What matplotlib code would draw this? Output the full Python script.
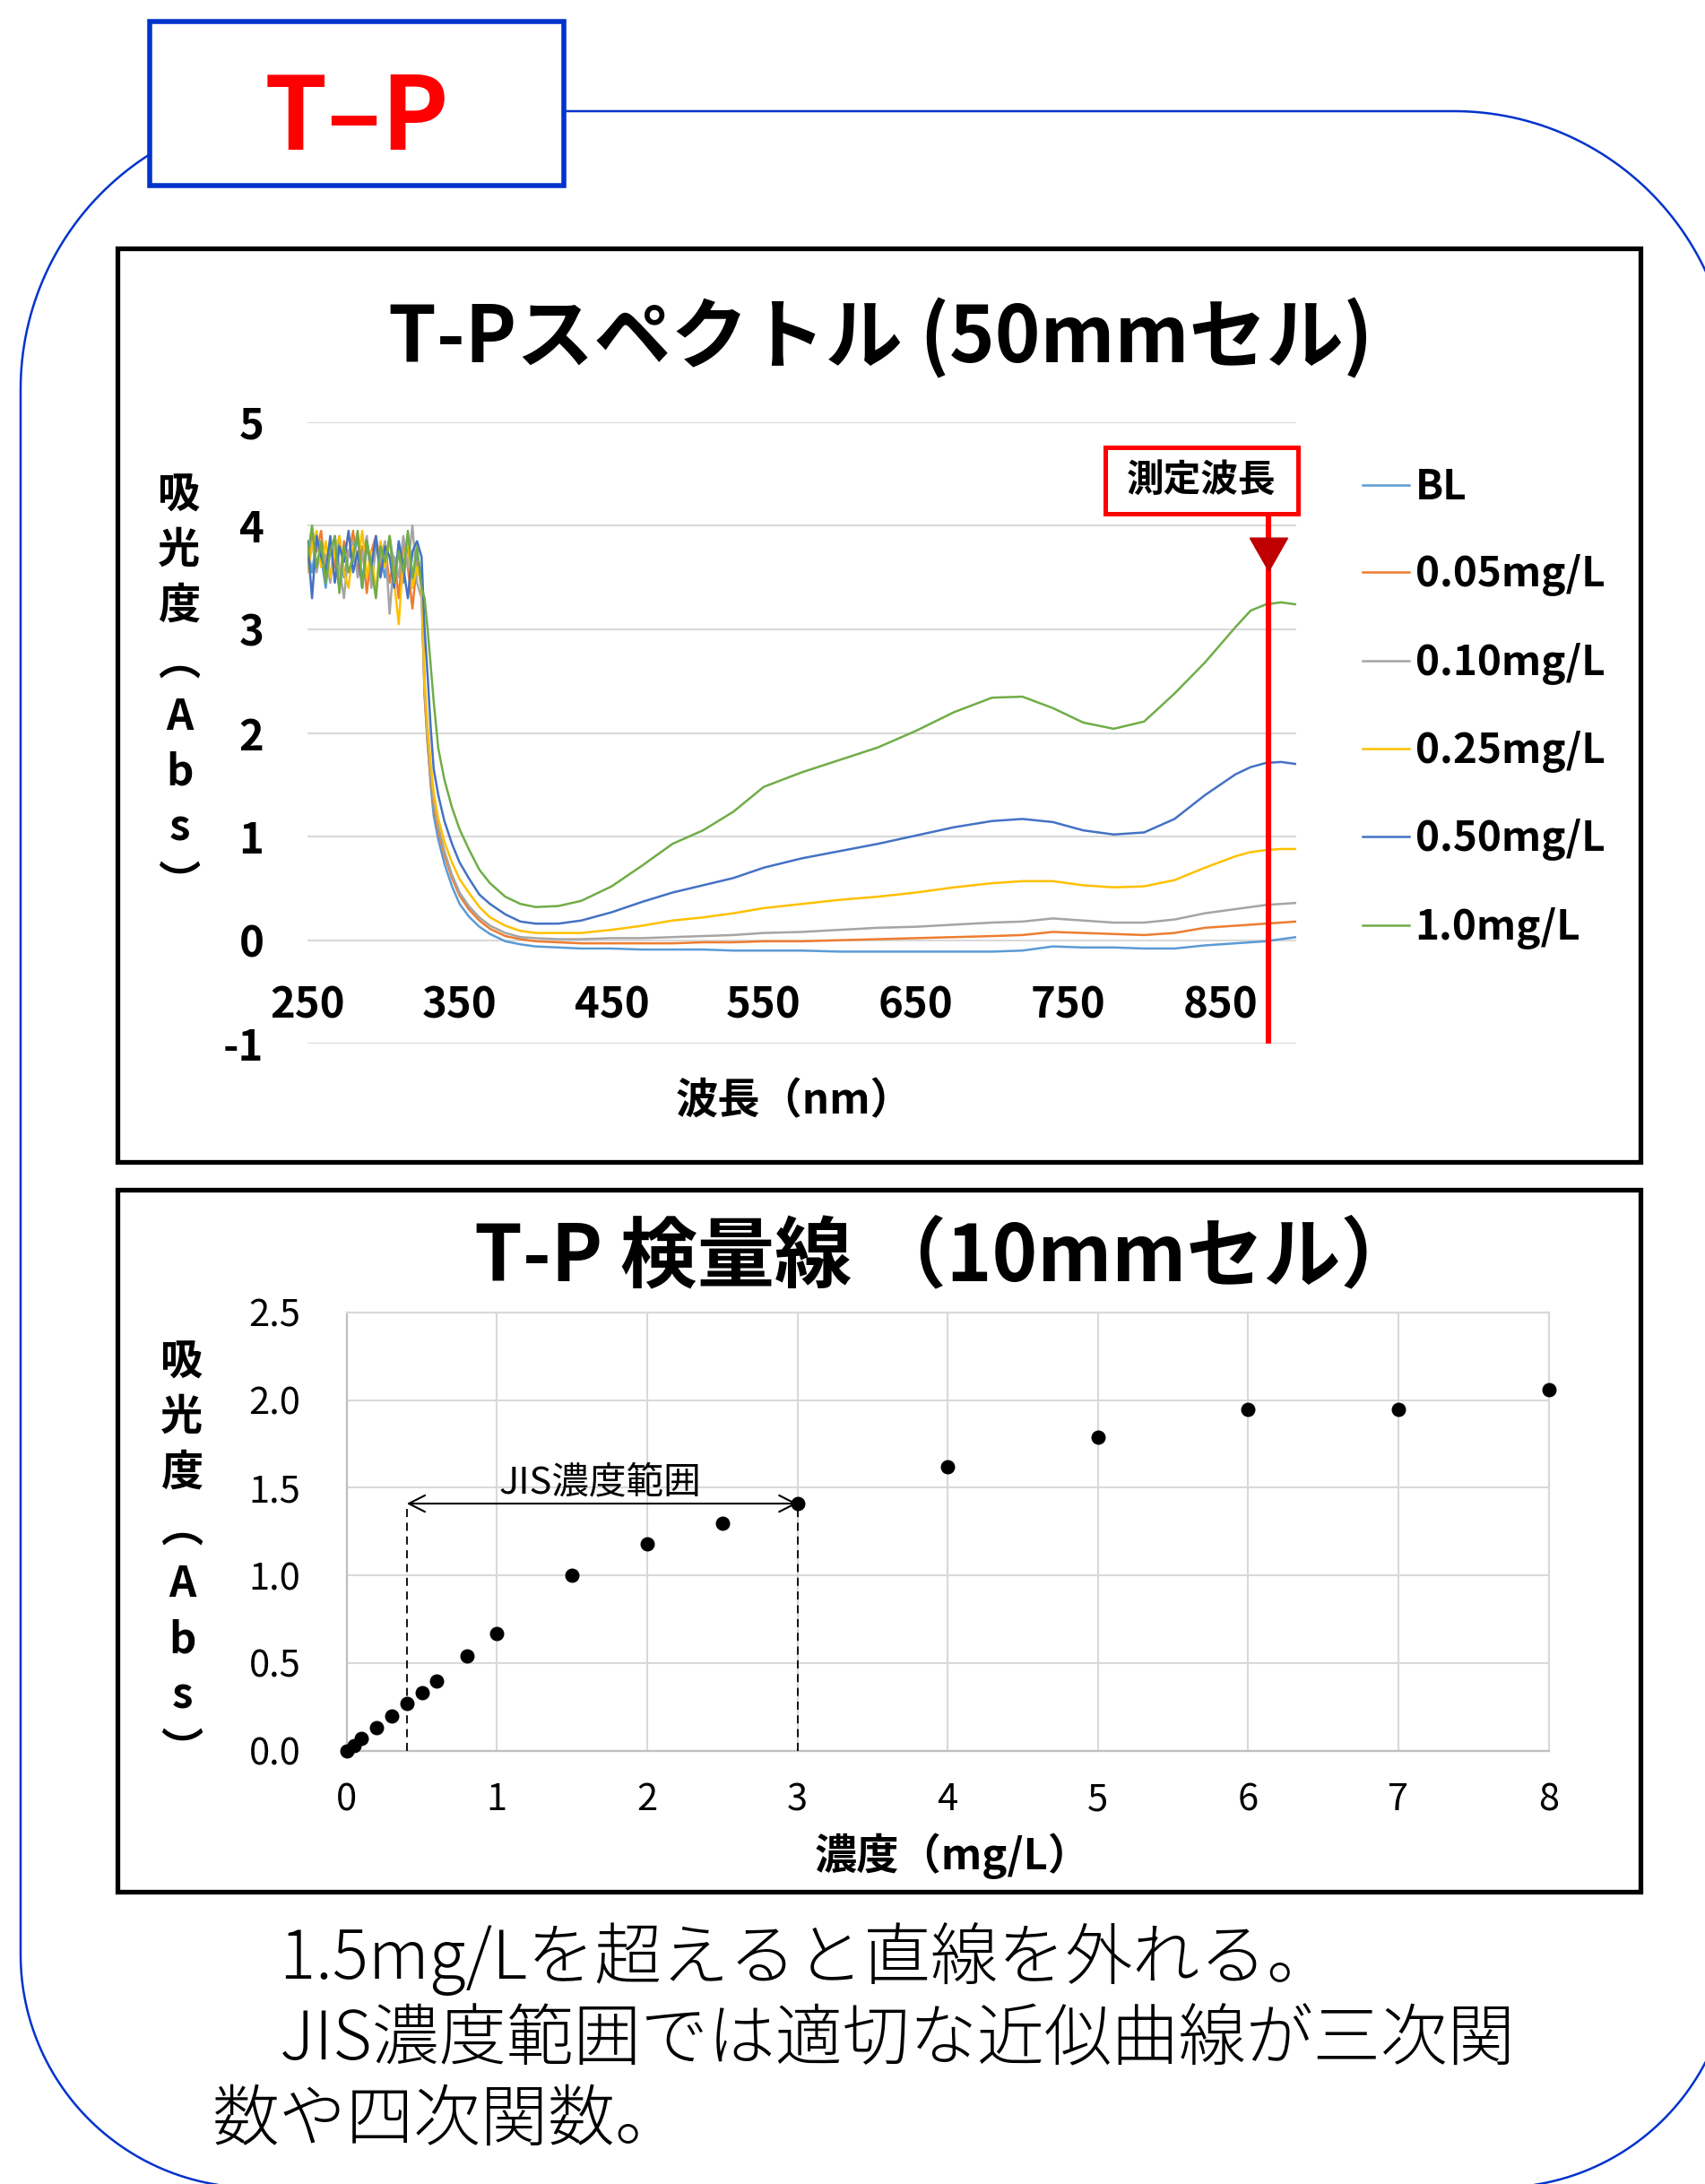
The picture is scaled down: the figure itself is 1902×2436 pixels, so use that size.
import numpy as np
import matplotlib
matplotlib.use("Agg")
import matplotlib.pyplot as plt
from matplotlib.patches import Rectangle, Polygon

plt.rcParams['font.family'] = ['Noto Sans CJK JP', 'DejaVu Sans']

W, H = 1902, 2436

# ---------------- spectrum data (absorbance) ----------------
NOISE_WL = [250, 253, 256, 259, 262, 265, 268, 271, 274, 277, 280, 283, 286,
            289, 292, 295, 298, 301, 304, 307, 310, 313, 316, 319, 322, 325]
SMOOTH_WL = [327, 329, 331, 333, 336, 340, 345, 350, 356, 363, 370, 380, 390,
             400, 415, 430, 450, 470, 490, 510, 530, 550, 575, 600, 625, 650,
             675, 700, 720, 740, 760, 780, 800, 820, 840, 860, 870, 880, 890, 900]

SERIES = ['BL', '0.05mg/L', '0.10mg/L', '0.25mg/L', '0.50mg/L', '1.0mg/L']
COLORS = ['#5B9BD5', '#ED7D31', '#A5A5A5', '#FFC000', '#4472C4', '#70AD47']

BL_NOISE = [3.80, 3.55, 3.85, 3.70, 3.40, 3.85, 3.60, 3.90, 3.50, 3.75, 3.65, 3.90, 3.45,
            3.80, 3.60, 3.85, 3.70, 3.50, 3.90, 3.60, 3.75, 3.45, 3.85, 3.40, 3.70, 3.55]
BL_SMOOTH = [2.40, 1.92, 1.50, 1.20, 0.97, 0.74, 0.52, 0.35, 0.23, 0.13, 0.06, -0.01,
             -0.04, -0.06, -0.07, -0.08, -0.08, -0.09, -0.09, -0.09, -0.10, -0.10, -0.10,
             -0.11, -0.11, -0.11, -0.11, -0.11, -0.10, -0.06, -0.07, -0.07, -0.08, -0.08,
             -0.05, -0.03, -0.02, -0.01, 0.01, 0.03]

C005_NOISE = [3.60, 3.90, 3.75, 3.95, 3.50, 3.80, 3.65, 3.40, 3.85, 3.70, 3.95, 3.55, 3.80,
              3.35, 3.75, 3.90, 3.60, 3.80, 3.45, 3.70, 3.30, 3.85, 3.60, 3.20, 3.65, 3.40]
C005_SMOOTH = [2.35, 1.88, 1.55, 1.30, 1.05, 0.82, 0.60, 0.43, 0.30, 0.19, 0.11, 0.04,
               0.01, -0.01, -0.02, -0.03, -0.03, -0.03, -0.03, -0.02, -0.02, -0.01, -0.01,
               0.00, 0.01, 0.02, 0.03, 0.04, 0.05, 0.08, 0.07, 0.06, 0.05, 0.07,
               0.12, 0.14, 0.15, 0.16, 0.17, 0.18]

C010_NOISE = [3.75, 3.85, 3.55, 3.80, 3.70, 3.45, 3.90, 3.60, 3.30, 3.75, 3.85, 3.50, 3.70,
              3.90, 3.40, 3.80, 3.65, 3.85, 3.15, 3.70, 3.50, 3.90, 3.60, 4.00, 3.45, 3.30]
C010_SMOOTH = [2.40, 1.92, 1.60, 1.34, 1.10, 0.86, 0.63, 0.46, 0.33, 0.22, 0.14, 0.07,
               0.03, 0.02, 0.01, 0.01, 0.02, 0.02, 0.03, 0.04, 0.05, 0.07, 0.08,
               0.10, 0.12, 0.13, 0.15, 0.17, 0.18, 0.21, 0.19, 0.17, 0.17, 0.20,
               0.26, 0.30, 0.32, 0.34, 0.35, 0.36]

C025_NOISE = [3.55, 3.80, 3.95, 3.60, 3.85, 3.50, 3.75, 3.90, 3.55, 3.40, 3.80, 3.65, 3.95,
              3.50, 3.75, 3.35, 3.85, 3.60, 3.90, 3.45, 3.05, 3.70, 3.85, 3.40, 3.60, 3.45]
C025_SMOOTH = [2.50, 2.05, 1.70, 1.42, 1.17, 0.95, 0.75, 0.59, 0.46, 0.32, 0.22, 0.14,
               0.09, 0.07, 0.07, 0.07, 0.10, 0.14, 0.19, 0.22, 0.26, 0.31, 0.35,
               0.39, 0.42, 0.46, 0.51, 0.55, 0.57, 0.57, 0.53, 0.51, 0.52, 0.58,
               0.70, 0.81, 0.85, 0.87, 0.88, 0.88]

C050_NOISE = [3.85, 3.30, 3.90, 3.70, 3.55, 3.90, 3.45, 3.80, 3.65, 3.95, 3.55, 3.75, 3.40,
              3.85, 3.60, 3.90, 3.50, 3.80, 3.70, 3.40, 3.85, 3.60, 3.30, 3.75, 3.85, 3.70]
C050_SMOOTH = [3.00, 2.55, 2.05, 1.65, 1.40, 1.15, 0.93, 0.75, 0.60, 0.44, 0.35, 0.25,
               0.18, 0.16, 0.16, 0.19, 0.27, 0.37, 0.46, 0.53, 0.60, 0.70, 0.79,
               0.86, 0.93, 1.01, 1.09, 1.15, 1.17, 1.14, 1.06, 1.02, 1.04, 1.17,
               1.40, 1.60, 1.67, 1.71, 1.72, 1.70]

C100_NOISE = [3.70, 4.00, 3.60, 3.85, 3.45, 3.75, 3.90, 3.35, 3.80, 3.55, 3.70, 3.95, 3.40,
              3.85, 3.60, 3.30, 3.80, 3.65, 3.90, 3.45, 3.75, 3.55, 3.95, 3.50, 3.80, 3.40]
C100_SMOOTH = [3.30, 3.00, 2.65, 2.30, 1.85, 1.55, 1.28, 1.07, 0.88, 0.68, 0.55, 0.42,
               0.35, 0.32, 0.33, 0.38, 0.52, 0.72, 0.93, 1.06, 1.24, 1.48, 1.62,
               1.74, 1.86, 2.02, 2.20, 2.34, 2.35, 2.24, 2.10, 2.04, 2.11, 2.38,
               2.68, 3.02, 3.18, 3.24, 3.26, 3.24]

NOISE_VALUES = [BL_NOISE, C005_NOISE, C010_NOISE, C025_NOISE, C050_NOISE, C100_NOISE]
SMOOTH_VALUES = [BL_SMOOTH, C005_SMOOTH, C010_SMOOTH, C025_SMOOTH, C050_SMOOTH, C100_SMOOTH]

X1_TICKS = [250, 350, 450, 550, 650, 750, 850]
Y1_TICKS = [-1, 0, 1, 2, 3, 4, 5]
MEAS_WL = 882

# ---------------- calibration curve data ----------------
CONC = [0, 0.05, 0.1, 0.2, 0.3, 0.4, 0.5, 0.6, 0.8, 1.0, 1.5, 2.0, 2.5, 3.0, 4, 5, 6, 7, 8]
ABS = [0.00, 0.03, 0.07, 0.13, 0.20, 0.27, 0.33, 0.40, 0.54, 0.67, 1.00, 1.18, 1.30,
       1.41, 1.62, 1.79, 1.95, 1.95, 2.06]
X2_TICKS = [0, 1, 2, 3, 4, 5, 6, 7, 8]
Y2_TICKS = [0.0, 0.5, 1.0, 1.5, 2.0, 2.5]
JIS_LOW, JIS_HIGH = 0.4, 3.0

NOTE_LINES = ['\u30001.5mg/Lを超えると直線を外れる。',
              '\u3000JIS濃度範囲では適切な近似曲線が三次関',
              '数や四次関数。']

BLUE = '#0033CC'
GRID = '#D9D9D9'


def frac(x0, y0, x1, y1):
    return [x0 / W, 1 - y1 / H, (x1 - x0) / W, (y1 - y0) / H]


def rounded_frame(x0, y0, x1, y1, rt, rb, n=60):
    t = np.linspace(0, np.pi / 2, n)
    pts = []
    pts += list(zip(x0 + rt - rt * np.cos(t), y0 + rt - rt * np.sin(t)))
    pts += list(zip(x1 - rt + rt * np.sin(t), y0 + rt - rt * np.cos(t)))
    pts += list(zip(x1 - rb + rb * np.cos(t), y1 - rb + rb * np.sin(t)))
    pts += list(zip(x0 + rb - rb * np.sin(t), y1 - rb + rb * np.cos(t)))
    return np.array(pts)


fig = plt.figure(figsize=(W / 100, H / 100), dpi=100)

# background layer in pixel coordinates (y down)
bg = fig.add_axes([0, 0, 1, 1], zorder=0)
bg.set_xlim(0, W)
bg.set_ylim(H, 0)
bg.axis('off')

bg.add_patch(Polygon(rounded_frame(23, 124, 1932, 2440, 310, 260), closed=True,
                     fill=False, edgecolor=BLUE, lw=1.8))
bg.add_patch(Rectangle((167, 24), 462, 183, facecolor='white', edgecolor=BLUE, lw=4.0, zorder=3))
bg.text(398, 167, 'T–P', color='#FF0000', fontsize=81, fontweight='bold',
        ha='center', va='baseline', zorder=4)

bg.add_patch(Rectangle((131, 277), 1699, 1019, fill=False, edgecolor='black', lw=3.8))
bg.add_patch(Rectangle((131, 1327), 1699, 783, fill=False, edgecolor='black', lw=3.8))

bg.text(982, 378, 'T-Pスペクトル (50mmセル)', fontsize=62, fontweight='bold',
        ha='center', va='center')
bg.text(1055, 1403, 'T-P 検量線 （10mmセル）', fontsize=62, fontweight='bold',
        ha='center', va='center')

bg.text(886, 1228, '波長（nm）', fontsize=34, fontweight='bold', ha='center', va='center')
bg.text(1063, 2070, '濃度（mg/L）', fontsize=34, fontweight='bold', ha='center', va='center')

ylabel_chars = ['吸', '光', '度', '︵', 'A', 'b', 's', '︶']
for i, ch in enumerate(ylabel_chars):
    bg.text(200, 566 + i * 62, ch, fontsize=34, fontweight='bold', ha='center', va='baseline')
    bg.text(203, 1533 + i * 62, ch, fontsize=34, fontweight='bold', ha='center', va='baseline')

for i, line in enumerate(NOTE_LINES):
    bg.text(237, 2207 + i * 90, line, fontsize=54, fontweight='light',
            ha='left', va='baseline')

# ---------------- spectrum chart ----------------
ax1 = fig.add_axes(frac(343, 470.7, 1446, 1164.3), zorder=2)
ax1.patch.set_alpha(0)
for sp in ax1.spines.values():
    sp.set_visible(False)
ax1.spines['bottom'].set_position(('data', 0))

for label, color, nv, sv in zip(SERIES, COLORS, NOISE_VALUES, SMOOTH_VALUES):
    ax1.plot(NOISE_WL + SMOOTH_WL, nv + sv, color=color, lw=1.8, label=label)

ax1.set_xlim(250, 900)
ax1.set_ylim(-1, 5)
ax1.set_xticks(X1_TICKS, labels=[str(v) for v in X1_TICKS], fontsize=34, fontweight='bold')
ax1.set_yticks(Y1_TICKS, labels=[str(v) for v in Y1_TICKS], fontsize=34, fontweight='bold')
ax1.grid(axis='y', color=GRID, lw=1.5)
ax1.set_axisbelow(True)
ax1.tick_params(axis='both', length=0)
ax1.tick_params(axis='x', pad=35)
ax1.tick_params(axis='y', pad=35)

# measurement wavelength marker
box_lo, box_hi = 4.115, 4.755
ax1.plot([MEAS_WL, MEAS_WL], [-1, box_lo], color='#FF0000', lw=4.4,
         solid_capstyle='butt', zorder=5, clip_on=False)
ax1.fill([MEAS_WL - 12.4, MEAS_WL + 12.4, MEAS_WL], [3.88, 3.88, 3.56],
         color='#C00000', zorder=6)
ax1.add_patch(Rectangle((774.5, box_lo), 126.5, box_hi - box_lo, facecolor='white',
                        edgecolor='#FF0000', lw=3.6, zorder=6, clip_on=False))
ax1.text(837.7, (box_lo + box_hi) / 2, '測定波長', fontsize=30, fontweight='bold',
         ha='center', va='center', zorder=7)

ax1.legend(loc='upper left', bbox_to_anchor=(1520 / W, 1 - 521 / H),
           bbox_transform=fig.transFigure, frameon=False,
           prop={'size': 33, 'weight': 'bold'}, handlelength=1.13,
           handletextpad=0.15, labelspacing=1.12, borderpad=0, borderaxespad=0)

# ---------------- calibration chart ----------------
ax2 = fig.add_axes(frac(386.7, 1464, 1727.5, 1952.7), zorder=2)
ax2.scatter(CONC, ABS, s=110, color='black', zorder=4, clip_on=False)
ax2.set_xlim(0, 8)
ax2.set_ylim(0, 2.5)
ax2.set_xticks(X2_TICKS, labels=[str(v) for v in X2_TICKS], fontsize=30)
ax2.set_yticks(Y2_TICKS, labels=[f'{v:.1f}' for v in Y2_TICKS], fontsize=30)
ax2.grid(color=GRID, lw=1.5)
ax2.set_axisbelow(True)
for side, sp in ax2.spines.items():
    sp.set_color('#BFBFBF' if side in ('left', 'bottom') else GRID)
    sp.set_linewidth(1.6)
ax2.tick_params(axis='both', length=0)
ax2.tick_params(axis='x', pad=25)
ax2.tick_params(axis='y', pad=37)

jis_y = ABS[CONC.index(JIS_HIGH)]
for xv in (JIS_LOW, JIS_HIGH):
    ax2.plot([xv, xv], [0, jis_y], color='black', lw=1.3, ls=(0, (5, 3.5)), zorder=3)
ax2.annotate('', xy=(JIS_HIGH, jis_y), xytext=(JIS_LOW, jis_y),
             arrowprops=dict(arrowstyle='<->,head_length=0.65,head_width=0.33',
                             color='black', lw=1.5, shrinkA=0, shrinkB=0,
                             mutation_scale=20), zorder=3)
ax2.text((JIS_LOW + JIS_HIGH) / 2 - 0.01, 1.47, 'JIS濃度範囲', fontsize=30,
         ha='center', va='baseline')

fig.savefig('out.png', dpi=100)
